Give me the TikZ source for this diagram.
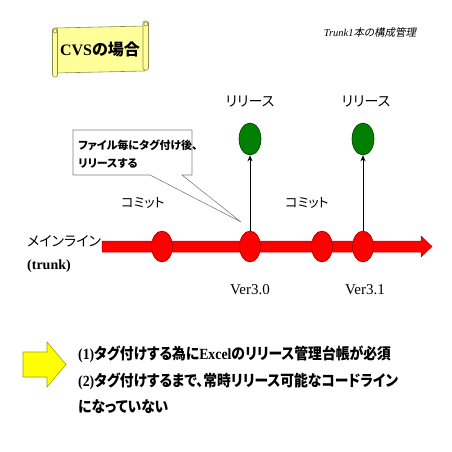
\documentclass[tikz,border=0pt]{standalone}
\usepackage{fontspec}
\setmainfont{Liberation Serif}
\newfontfamily\jp{Noto Sans CJK JP}[RawFeature={+palt}]
\newfontfamily\jpit{Noto Sans CJK JP}[RawFeature={+palt},FakeSlant=0.2]
\usetikzlibrary{arrows.meta,shapes.geometric}
\definecolor{scrollfill}{HTML}{FFFF99}
\definecolor{scrollline}{HTML}{8C8C50}
\definecolor{trunkred}{HTML}{FF0000}
\definecolor{trunkline}{HTML}{B00000}
\definecolor{relgreen}{HTML}{007F00}
\definecolor{relline}{HTML}{004000}
\definecolor{arrowyellow}{HTML}{FFFF00}
\definecolor{arrowline}{HTML}{A0A000}
\tikzset{
  commit/.style={ellipse, minimum width=21pt, minimum height=31pt, inner sep=0pt, fill=trunkred, draw=trunkline, line width=0.6pt},
  release/.style={ellipse, minimum width=22pt, minimum height=32pt, inner sep=0pt, fill=relgreen, draw=relline, line width=0.6pt},
  tag/.style={-{Stealth[length=6pt,width=5pt]}, line width=1pt, black},
  lbl/.style={inner sep=0pt, font=\jp\fontsize{13}{15}\selectfont},
  ver/.style={inner sep=0pt, font=\fontsize{15}{17}\selectfont},
  btxt/.style={inner sep=0pt, anchor=west, font=\bfseries\fontsize{15.5}{18}\selectfont},
}
\newcommand{\squeeze}[1]{\scalebox{0.89}[1]{#1}}
\begin{document}
\begin{tikzpicture}[x=1pt,y=-1pt]
\useasboundingbox (0,0) rectangle (452,452);
\fill[white] (0,0) rectangle (452,452);
% scroll banner
\draw[scrollline, fill=scrollfill, line width=0.6pt] (56,28) -- (145,26) -- (145,71) -- (56,73) -- cycle;
\draw[scrollline, fill=scrollfill, line width=0.6pt, rounded corners=2pt] (52.5,28) rectangle (57.5,77);
\draw[scrollline, fill=scrollfill, line width=0.6pt] (55,31) circle (2pt);
\draw[scrollline, fill=scrollfill, line width=0.6pt, rounded corners=2pt] (143,21) rectangle (148.5,70);
\draw[scrollline, fill=scrollfill, line width=0.6pt] (145.8,24) circle (2pt);
\node[inner sep=0pt] (title) at (100,49) {\bfseries\fontsize{16}{18}\selectfont CVS{\jp\bfseries の場合}};
\node[inner sep=0pt] (sub) at (370,33) {\fontsize{10.5}{12}\selectfont\itshape Trunk1{\jpit 本の構成管理}};
% trunk arrow
\draw[fill=trunkred, draw=trunkline, line width=0.5pt] (102,241) -- (421,241) -- (421,236) -- (432,246.5) -- (421,257) -- (421,252) -- (102,252) -- cycle;
\node[commit] (c1) at (162,246.5) {};
\node[commit] (c2) at (250,246.5) {};
\node[commit] (c3) at (322,246.5) {};
\node[commit] (c4) at (363,246.5) {};
\node[release] (r1) at (250,139) {};
\node[release] (r2) at (363,139) {};
\draw[tag] (c2.north) -- (r1.south);
\draw[tag] (c4.north) -- (r2.south);
\node[lbl, font=\jp\fontsize{14}{16}\selectfont] (rl1) at (250,101) {リリース};
\node[lbl, font=\jp\fontsize{14}{16}\selectfont] (rl2) at (366,101) {リリース};
\node[lbl] (cm1) at (143,203) {コミット};
\node[lbl] (cm2) at (307,203) {コミット};
\node[inner sep=0pt, anchor=west, font=\jp\fontsize{14}{16}\selectfont] (ml) at (27,241) {メインライン};
\node[inner sep=0pt, anchor=west, font=\bfseries\fontsize{14}{16}\selectfont] (tr) at (27,266) {(trunk)};
\node[ver] (v1) at (250,290) {Ver3.0};
\node[ver] (v2) at (365,290) {Ver3.1};
% callout
\coordinate (ctip) at (241,222);
\draw[gray, fill=white, line width=0.6pt] (73,130) -- (192,130) -- (192,175) -- (182,175) -- (ctip) -- (150,175) -- (73,175) -- cycle;
\node[inner sep=0pt, anchor=west, font=\jp\bfseries\fontsize{11}{13}\selectfont] (co1) at (78,145) {ファイル毎にタグ付け後、};
\node[inner sep=0pt, anchor=west, font=\jp\bfseries\fontsize{11}{13}\selectfont] (co2) at (78,163) {リリースする};
% bottom arrow and text
\draw[fill=arrowyellow, draw=arrowline, line width=0.6pt] (23,352) -- (47,352) -- (47,342) -- (66,364.5) -- (47,387) -- (47,377) -- (23,377) -- cycle;
\node[btxt] (b1) at (78,354) {\squeeze{(1){\jp\bfseries タグ付けする為に}Excel{\jp\bfseries のリリース管理台帳が必須}}};
\node[btxt] (b2) at (78,381) {\squeeze{(2){\jp\bfseries タグ付けするまで、常時リリース可能なコードライン}}};
\node[btxt] (b3) at (78,407) {\squeeze{\jp\bfseries になっていない}};
\end{tikzpicture}
\end{document}
